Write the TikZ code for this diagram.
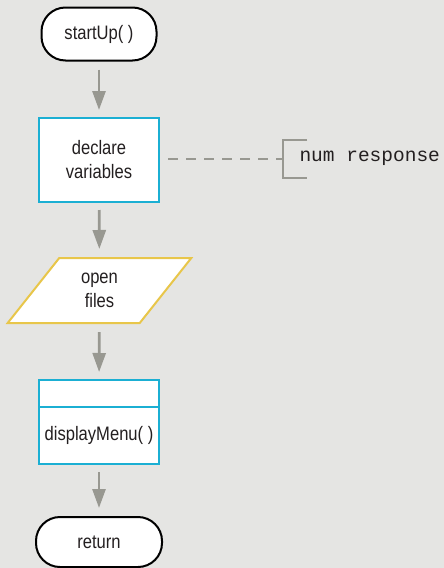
\documentclass[tikz,border=0pt]{standalone}
\usepackage{fontspec}
\setmainfont{Liberation Sans}[FakeStretch=0.85]
\setmonofont{Liberation Mono}
\usepackage{tikz}
\usetikzlibrary{shapes.geometric, arrows.meta, positioning}
\definecolor{bgGray}{HTML}{E5E5E3}
\definecolor{flowGray}{HTML}{989891}
\definecolor{procCyan}{HTML}{1BAFD3}
\definecolor{ioYellow}{HTML}{E8C64A}
\definecolor{inkDark}{HTML}{231F20}

\begin{document}
\begin{tikzpicture}[x=1pt, y=-1pt,
    every node/.style={font=\fontsize{19.5}{24}\selectfont, text=inkDark, align=center},
    terminal/.style={draw=black, line width=2pt, fill=white, rounded corners=24pt},
    process/.style={draw=procCyan, line width=2pt, fill=white, minimum width=120pt, outer sep=0pt},
    io/.style={trapezium, trapezium left angle=56, trapezium right angle=124,
        trapezium stretches=true, draw=ioYellow, line width=2pt, fill=white,
        minimum width=185pt, minimum height=65pt},
    flow/.style={draw=flowGray, line width=2.7pt, -{Triangle[length=19pt, width=13pt]},
        shorten <=8pt, shorten >=8pt},
    dashline/.style={draw=flowGray, line width=2pt, dash pattern=on 10pt off 8pt},
    brkline/.style={draw=flowGray, line width=2.5pt}]

    % Background
    \fill[bgGray] (0,0) rectangle (444,568);
    \useasboundingbox (0,0) rectangle (444,568);

    % Start
    \node[terminal, minimum width=115pt, minimum height=53pt] (start) at (99,34) {startUp( )};

    % Declarations
    \node[process, minimum height=84pt] (decl) at (99,160) {declare\\variables};
    \coordinate (brk) at (283,159);
    \draw[dashline] ([xshift=9pt]decl.east |- brk) -- (brk);
    \draw[brkline] (brk) ++(24,-19) -- ++(-24,0) -- ++(0,38) -- ++(24,0);
    \node[anchor=west, font=\fontsize{19.5}{20}\selectfont\ttfamily] (resp) at (296,158.5) {num response};

    % Input
    \node[io] (files) at (99.5,290.5) {open\\files};

    % Module call
    \node[process, minimum height=27pt] (menuhead) at (99,393.5) {};
    \node[process, minimum height=57pt, below=0pt of menuhead] (menu) {displayMenu( )};

    % End
    \node[terminal, minimum width=126pt, minimum height=50pt] (ret) at (99,542) {return};

    % Flow
    \draw[flow] (start) -- (decl);
    \draw[flow] (decl) -- (files);
    \draw[flow] (files) -- (menuhead);
    \draw[flow] (menu) -- (ret);
\end{tikzpicture}
\end{document}
